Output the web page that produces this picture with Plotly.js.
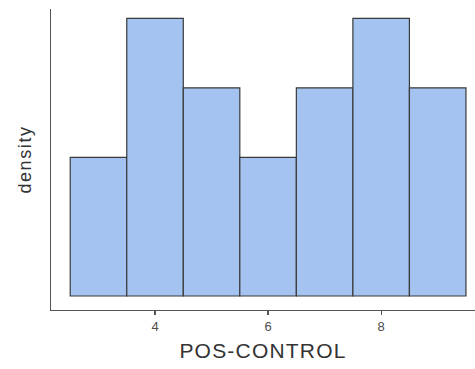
<!DOCTYPE html>
<html><head><meta charset="utf-8">
<script src="https://cdn.plot.ly/plotly-3.0.1.min.js"></script>
<style>html,body{margin:0;padding:0;background:#fff;}#chart{width:475px;height:369px;}
.xtitle{letter-spacing:1.2px;}.ytitle{letter-spacing:1.6px;}</style>
</head><body><div id="chart"></div>
<script>
const binCenters = [3, 4, 5, 6, 7, 8, 9];
const densities = [0.0952, 0.1905, 0.1429, 0.0952, 0.1429, 0.1905, 0.1429];
const tickValues = [4, 6, 8];
const tickLabels = ["4", "6", "8"];

const trace = {
  type: 'bar',
  x: binCenters,
  y: densities,
  width: 1,
  marker: {color: '#a4c3f0', line: {color: '#3a3a3a', width: 1.2}},
  hoverinfo: 'none'
};
const layout = {
  width: 475, height: 369,
  margin: {l: 51, r: 0, t: 9, b: 59},
  paper_bgcolor: '#fff', plot_bgcolor: '#fff',
  showlegend: false,
  font: {family: 'Liberation Sans, Arial, sans-serif'},
  xaxis: {
    range: [2.16, 9.66],
    tickvals: tickValues, ticktext: tickLabels,
    ticks: 'outside', ticklen: 4, tickwidth: 1.2, tickcolor: '#555',
    showline: true, linecolor: '#555', linewidth: 1.2,
    showgrid: false, zeroline: false,
    tickfont: {size: 13, color: '#4d4d4d'},
    title: {text: 'POS-CONTROL', font: {size: 21, color: '#333'}, standoff: 10}
  },
  yaxis: {
    range: [-0.0096, 0.197],
    showticklabels: false, ticks: '',
    showline: true, linecolor: '#555', linewidth: 1.2,
    showgrid: false, zeroline: false,
    title: {text: 'density', font: {size: 18, color: '#333'}, standoff: 13}
  }
};
Plotly.newPlot('chart', [trace], layout, {staticPlot: true, displayModeBar: false});
</script></body></html>
